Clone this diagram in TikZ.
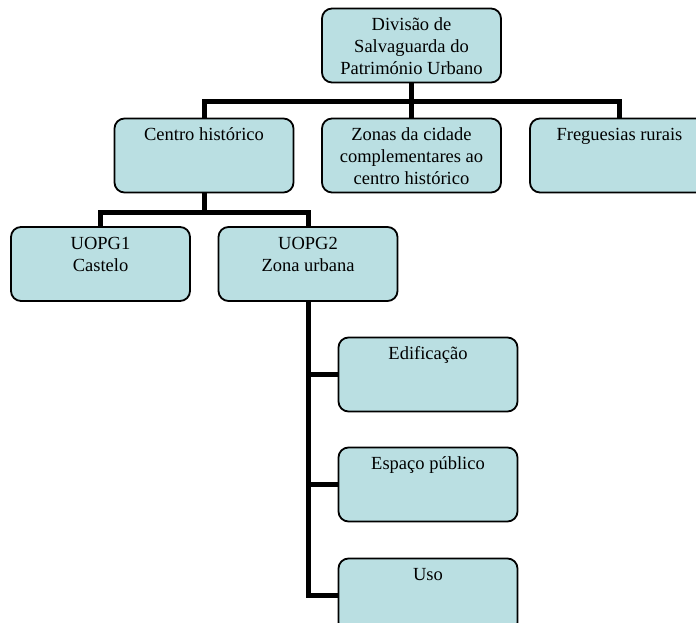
\documentclass[tikz,border=0pt]{standalone}
\usepackage{fontspec}
\setmainfont{Liberation Serif}
\usepackage{tikz}
\usetikzlibrary{backgrounds}

\definecolor{boxfill}{RGB}{186,223,226}
\newcommand\boxtext[1]{\parbox[t][60bp][t]{170bp}{\centering\strut #1}}

\begin{document}
\begin{tikzpicture}[x=1bp,y=-1bp,
  unit/.style={draw=black,line width=1.8bp,rounded corners=10bp,fill=boxfill,
    inner xsep=4bp,inner ysep=7bp,minimum width=179bp,minimum height=74bp},
  link/.style={line width=5bp,black}]
\fontsize{18.5bp}{22bp}\selectfont
\useasboundingbox (0,0) rectangle (696,623);

% boxes
\node[unit] (root) at (411.5,45.5) {\boxtext{Divisão de\\Salvaguarda do\\Património Urbano}};
\node[unit] (centro) at (204,155.5) {\boxtext{Centro histórico}};
\node[unit] (zonas) at (411.5,155.5) {\boxtext{Zonas da cidade\\complementares ao\\centro histórico}};
\node[unit] (freg) at (619.5,155.5) {\boxtext{Freguesias rurais}};
\node[unit] (uopg1) at (100.5,264) {\boxtext{UOPG1\\Castelo}};
\node[unit] (uopg2) at (308,264) {\boxtext{UOPG2\\Zona urbana}};
\node[unit] (edif) at (428,374.5) {\boxtext{Edificação}};
\node[unit] (espaco) at (428,484.5) {\boxtext{Espaço público}};
\node[unit] (uso) at (428,595.5) {\boxtext{Uso}};

% connectors
\begin{pgfonlayer}{background}
\draw[link] (root.south) -- ++(0,18) -| (centro.north);
\draw[link] (root.south) -- (zonas.north);
\draw[link] (root.south) -- ++(0,18) -| (freg.north);
\draw[link] (centro.south) -- ++(0,19) -| (uopg1.north);
\draw[link] (centro.south) -- ++(0,19) -| (uopg2.north);
\foreach \n in {edif,espaco,uso} {
  \draw[link] (uopg2.south) |- (\n.west);
}
\end{pgfonlayer}
\end{tikzpicture}
\end{document}
